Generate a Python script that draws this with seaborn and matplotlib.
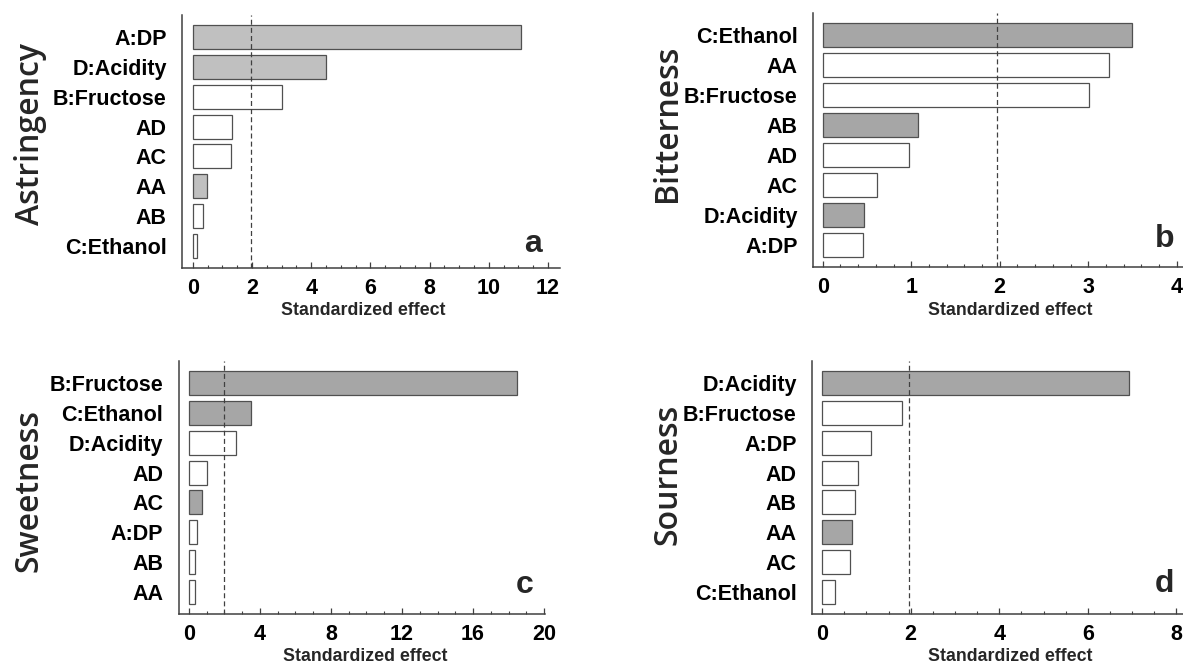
import matplotlib
matplotlib.use("Agg")
import matplotlib.pyplot as plt
from matplotlib.ticker import MultipleLocator
import pandas as pd
import seaborn as sns

# Critical t value drawn as the dashed reference line
T_CRIT = 1.97

# Standardized effects per sensory attribute ("+" positive, "-" negative effect)
ASTR_TERMS = ["A:DP", "D:Acidity", "B:Fructose", "AD", "AC", "AA", "AB", "C:Ethanol"]
ASTR_EFFECTS = [11.07, 4.50, 3.00, 1.31, 1.28, 0.48, 0.34, 0.15]
ASTR_SIGNS = ["+", "+", "-", "-", "-", "+", "-", "-"]

BITT_TERMS = ["C:Ethanol", "AA", "B:Fructose", "AB", "AD", "AC", "D:Acidity", "A:DP"]
BITT_EFFECTS = [3.49, 3.23, 3.01, 1.08, 0.98, 0.61, 0.47, 0.46]
BITT_SIGNS = ["+", "-", "-", "+", "-", "-", "+", "-"]

SWEET_TERMS = ["B:Fructose", "C:Ethanol", "D:Acidity", "AD", "AC", "A:DP", "AB", "AA"]
SWEET_EFFECTS = [18.48, 3.53, 2.68, 1.04, 0.76, 0.49, 0.34, 0.34]
SWEET_SIGNS = ["+", "+", "-", "-", "+", "-", "-", "-"]

SOUR_TERMS = ["D:Acidity", "B:Fructose", "A:DP", "AD", "AB", "AA", "AC", "C:Ethanol"]
SOUR_EFFECTS = [6.93, 1.80, 1.10, 0.81, 0.74, 0.68, 0.63, 0.30]
SOUR_SIGNS = ["+", "-", "-", "-", "-", "+", "-", "-"]

sns.set_theme(style="ticks")
plt.rcParams["font.family"] = ["Liberation Sans", "DejaVu Sans"]
plt.rcParams["font.weight"] = "bold"
plt.rcParams["axes.edgecolor"] = "#404040"
plt.rcParams["axes.linewidth"] = 1.1
plt.rcParams["xtick.color"] = "#404040"
plt.rcParams["xtick.labelcolor"] = "black"
plt.rcParams["ytick.labelcolor"] = "black"

EDGE = "#505050"

fig = plt.figure(figsize=(11.83, 6.64), dpi=100)

panels = [
    dict(terms=ASTR_TERMS, effects=ASTR_EFFECTS, signs=ASTR_SIGNS, name="Astringency",
         letter="a", fill="#c0c0c0", rect=[0.1538, 0.5964, 0.3195, 0.3810],
         xlim=(-0.37, 12.4), major=2, minor=0.5,
         ylab=(-0.377, 0.528), xlab=(0.481, -0.186), let=(0.952, 0.063)),
    dict(terms=BITT_TERMS, effects=BITT_EFFECTS, signs=BITT_SIGNS, name="Bitterness",
         letter="b", fill="#a6a6a6", rect=[0.6872, 0.5979, 0.3128, 0.3825],
         xlim=(-0.11, 4.07), major=1, minor=0.2,
         ylab=(-0.369, 0.565), xlab=(0.532, -0.189), let=(0.977, 0.079)),
    dict(terms=SWEET_TERMS, effects=SWEET_EFFECTS, signs=SWEET_SIGNS, name="Sweetness",
         letter="c", fill="#a6a6a6", rect=[0.1510, 0.0753, 0.3097, 0.3810],
         xlim=(-0.57, 20.05), major=4, minor=1,
         ylab=(-0.385, 0.490), xlab=(0.508, -0.184), let=(0.969, 0.083)),
    dict(terms=SOUR_TERMS, effects=SOUR_EFFECTS, signs=SOUR_SIGNS, name="Sourness",
         letter="d", fill="#a6a6a6", rect=[0.6864, 0.0753, 0.3136, 0.3810],
         xlim=(-0.23, 8.15), major=2, minor=0.5,
         ylab=(-0.364, 0.553), xlab=(0.534, -0.184), let=(0.977, 0.087)),
]

for p in panels:
    ax = fig.add_axes(p["rect"])
    df = pd.DataFrame({"term": p["terms"], "effect": p["effects"], "sign": p["signs"]})
    sns.barplot(data=df, x="effect", y="term", hue="sign", order=p["terms"],
                hue_order=["+", "-"], palette={"+": p["fill"], "-": "white"},
                dodge=False, orient="h", width=0.8, saturation=1, errorbar=None,
                edgecolor=EDGE, linewidth=0.9, legend=False, ax=ax)
    ax.axvline(T_CRIT, color="#404040", lw=0.9, ls=(0, (4, 2.5)), zorder=3)

    ax.set_xlim(*p["xlim"])
    ax.set_ylim(7.74, -0.74)
    ax.xaxis.set_major_locator(MultipleLocator(p["major"]))
    ax.xaxis.set_minor_locator(MultipleLocator(p["minor"]))
    ax.tick_params(axis="x", which="major", direction="in", length=4, width=0.9,
                   pad=7, labelsize=15.5)
    ax.tick_params(axis="x", which="minor", direction="in", length=2.4, width=0.8)
    ax.tick_params(axis="y", length=0, pad=11, labelsize=15.5)
    sns.despine(ax=ax)

    ax.set_xlabel("Standardized effect", fontsize=12.8, fontweight="bold")
    ax.xaxis.label.set_va("baseline")
    ax.xaxis.set_label_coords(*p["xlab"])

    ax.set_ylabel(p["name"], fontsize=23, fontweight="semibold",
                  family=["Open Sans", "DejaVu Sans"])
    ax.yaxis.label.set_va("baseline")
    ax.yaxis.set_label_coords(*p["ylab"])

    ax.text(p["let"][0], p["let"][1], p["letter"], transform=ax.transAxes,
            ha="right", va="baseline", fontsize=23, fontweight="bold")

fig.savefig("out.png", dpi=100)
